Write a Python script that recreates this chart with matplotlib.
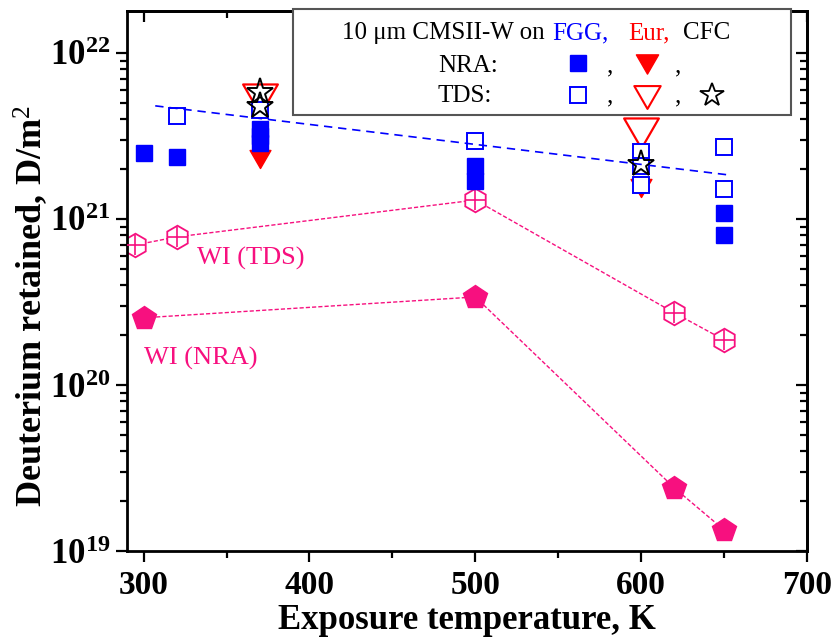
import matplotlib
matplotlib.use("Agg")
import matplotlib.pyplot as plt
import numpy as np
from matplotlib.path import Path
from matplotlib.patches import Rectangle
from matplotlib.ticker import FixedLocator, LogLocator, NullFormatter

plt.rcParams['font.family'] = ['Liberation Serif', 'DejaVu Serif']
plt.rcParams['mathtext.fontset'] = 'custom'
plt.rcParams['mathtext.rm'] = 'Liberation Serif'
plt.rcParams['mathtext.bf'] = 'Liberation Serif:bold'
plt.rcParams['mathtext.it'] = 'Liberation Serif:italic'

# ---------------- data ----------------
T_fgg_nra = [300, 320, 370, 370, 370, 500, 500, 650, 650]
D_fgg_nra = [2.5e21, 2.36e21, 3.5e21, 3.16e21, 2.87e21, 2.08e21, 1.69e21, 1.09e21, 8.0e20]

T_fgg_tds = [320, 370, 500, 600, 600, 600, 650, 650]
D_fgg_tds = [4.17e21, 4.5e21, 2.95e21, 2.53e21, 2.08e21, 1.6e21, 2.72e21, 1.52e21]

T_eur_nra = [370, 600]
D_eur_nra = [2.3e21, 1.54e21]

T_eur_tds = [370, 600]
D_eur_tds = [5.28e21, 3.3e21]

T_cfc_tds = [370, 370, 600]
D_cfc_tds = [5.8e21, 4.8e21, 2.14e21]

T_wi_tds = [295, 320, 500, 620, 650]
D_wi_tds = [6.97e20, 7.8e20, 1.3e21, 2.72e20, 1.87e20]

T_wi_nra = [300, 500, 620, 650]
D_wi_nra = [2.54e20, 3.39e20, 2.4e19, 1.34e19]

T_fit = [307, 653]
D_fit = [4.8e21, 1.84e21]

x_ticks = [300, 400, 500, 600, 700]
y_ticks = [1e19, 1e20, 1e21, 1e22]
y_tick_labels = [r'$\mathbf{10^{19}}$', r'$\mathbf{10^{20}}$', r'$\mathbf{10^{21}}$', r'$\mathbf{10^{22}}$']

BLUE = '#0000FF'
RED = '#FF0000'
PINK = '#F7107F'

# equilateral down triangle, bbox-centred
tri_down = Path([(-1, 0.866), (1, 0.866), (0, -0.866), (-1, 0.866)],
                [Path.MOVETO, Path.LINETO, Path.LINETO, Path.CLOSEPOLY])

fig = plt.figure(figsize=(8.38, 6.43), dpi=100)
ax = fig.add_axes([0.1516, 0.143, 0.8114, 0.840])

# WI lines
ax.plot(T_wi_tds, D_wi_tds, color=PINK, lw=1.0, dashes=(3, 1.5), zorder=1)
ax.plot(T_wi_nra, D_wi_nra, color=PINK, lw=1.0, dashes=(3, 1.5), zorder=1)
ax.plot(T_wi_tds, D_wi_tds, ls='none', marker='h', ms=17, mfc='white', mec=PINK, mew=1.3, zorder=2)
ax.plot(T_wi_tds, D_wi_tds, ls='none', marker='+', ms=15, mec=PINK, mew=1.2, zorder=3)
ax.plot(T_wi_nra, D_wi_nra, ls='none', marker='p', ms=17.5, mfc=PINK, mec=PINK, mew=1, zorder=2)

# fit line
ax.plot(T_fit, D_fit, color=BLUE, lw=1.2, dashes=(5, 3.5), zorder=6)

# Eur NRA (filled down triangles)
ax.plot(T_eur_nra, D_eur_nra, ls='none', marker=tri_down, ms=15, mfc=RED, mec=RED, mew=1, zorder=3)
# FGG NRA
ax.plot(T_fgg_nra, D_fgg_nra, ls='none', marker='s', ms=11, mfc=BLUE, mec=BLUE, mew=1, zorder=4)
# Eur TDS
ax.plot(T_eur_tds, D_eur_tds, ls='none', marker=tri_down, ms=25, mfc='none', mec=RED, mew=1.6, zorder=4)
# FGG TDS
ax.plot(T_fgg_tds, D_fgg_tds, ls='none', marker='s', ms=11, mfc='white', mec=BLUE, mew=1.4, zorder=5)
# CFC TDS
ax.plot(T_cfc_tds, D_cfc_tds, ls='none', marker='*', ms=20, mfc='none', mec='black', mew=1.4, zorder=6)

ax.text(332, 5.3e20, 'WI (TDS)', color=PINK, fontsize=19, ha='left', va='baseline')
ax.text(300, 1.32e20, 'WI (NRA)', color=PINK, fontsize=19, ha='left', va='baseline')

# axes
ax.set_yscale('log')
ax.set_xlim(290, 700)
ax.set_ylim(1e19, 1.79e22)
ax.xaxis.set_major_locator(FixedLocator(x_ticks))
ax.xaxis.set_minor_locator(FixedLocator([350, 450, 550, 650]))
ax.set_xticklabels([str(v) for v in x_ticks])
ax.yaxis.set_major_locator(FixedLocator(y_ticks))
ax.set_yticklabels(y_tick_labels)
ax.yaxis.set_minor_locator(LogLocator(base=10, subs=np.arange(2, 10), numticks=20))
ax.yaxis.set_minor_formatter(NullFormatter())

for s in ax.spines.values():
    s.set_linewidth(2.0)

ax.tick_params(which='both', direction='out', bottom=True, left=True, top=False, right=False, width=1.6)
ax.tick_params(which='major', length=8)
ax.tick_params(which='minor', length=5)
ax.tick_params(axis='x', labelsize=24, pad=6)
ax.tick_params(axis='y', labelsize=25, pad=4)
for lab in ax.get_xticklabels():
    lab.set_fontweight('bold')

# mirrored inward ticks on top/right
axt = ax.secondary_xaxis('top')
axt.xaxis.set_major_locator(FixedLocator(x_ticks))
axt.xaxis.set_minor_locator(FixedLocator([350, 450, 550, 650]))
axt.tick_params(which='both', direction='in', width=1.6, labeltop=False)
axt.tick_params(which='major', length=8)
axt.tick_params(which='minor', length=5)
axt.spines['top'].set_linewidth(2.0)
axr = ax.secondary_yaxis('right')
axr.set_yscale('log')
axr.yaxis.set_major_locator(FixedLocator(y_ticks))
axr.yaxis.set_minor_locator(LogLocator(base=10, subs=np.arange(2, 10), numticks=20))
axr.yaxis.set_minor_formatter(NullFormatter())
axr.tick_params(which='both', direction='in', width=1.6, labelright=False)
axr.tick_params(which='major', length=8)
axr.tick_params(which='minor', length=5)
axr.spines['right'].set_linewidth(2.0)

ax.set_xlabel('Exposure temperature, K', fontsize=25, fontweight='bold', labelpad=2)
ax.set_ylabel(r'Deuterium retained, D/m$^{2}$', fontsize=26, fontweight='bold')
ax.yaxis.set_label_coords(-0.113, 0.454)

# legend box (custom)
ax.add_patch(Rectangle((0.244, 0.807), 0.732, 0.197, transform=ax.transAxes, fill=True,
                       facecolor='white', edgecolor='#555555', lw=1.5, zorder=10, clip_on=False))
tkw = dict(transform=ax.transAxes, fontsize=18, va='baseline', zorder=11)
ax.text(0.614, 0.948, '10 μm CMSII-W on', color='black', ha='right', **tkw)
ax.text(0.626, 0.948, 'FGG,', color=BLUE, ha='left', **tkw)
ax.text(0.737, 0.948, 'Eur,', color=RED, ha='left', **tkw)
ax.text(0.818, 0.948, 'CFC', color='black', ha='left', **tkw)
ax.text(0.457, 0.887, 'NRA:', color='black', ha='left', **tkw)
ax.text(0.457, 0.831, 'TDS:', color='black', ha='left', **tkw)
for yy in (0.887, 0.831):
    ax.text(0.706, yy, ',', color='black', ha='left', **tkw)
    ax.text(0.806, yy, ',', color='black', ha='left', **tkw)
mkw = dict(transform=ax.transAxes, ls='none', zorder=12, clip_on=False)
ax.plot([0.663], [0.904], marker='s', ms=11, mfc=BLUE, mec=BLUE, mew=1, **mkw)
ax.plot([0.765], [0.902], marker=tri_down, ms=16, mfc=RED, mec=RED, mew=1, **mkw)
ax.plot([0.663], [0.844], marker='s', ms=11, mfc='white', mec=BLUE, mew=1.4, **mkw)
ax.plot([0.765], [0.841], marker=tri_down, ms=19, mfc='none', mec=RED, mew=1.5, **mkw)
ax.plot([0.860], [0.844], marker='*', ms=17.5, mfc='none', mec='black', mew=1.3, **mkw)

fig.savefig('out.png', dpi=100)
